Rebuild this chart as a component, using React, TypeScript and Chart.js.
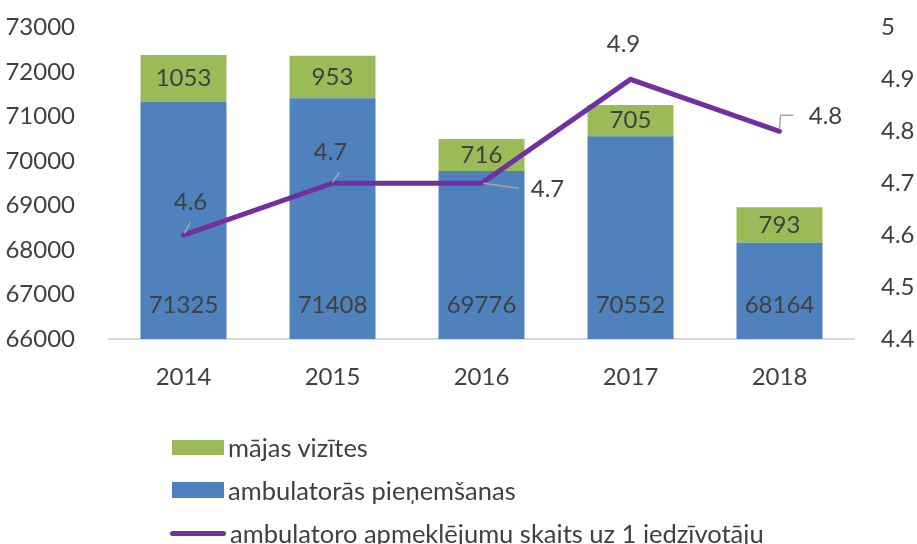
import React, { useEffect, useRef } from "react";
import { Chart, registerables } from "chart.js";

Chart.register(...registerables);

const years = ["2014", "2015", "2016", "2017", "2018"];
const ambulatoras = [71325, 71408, 69776, 70552, 68164];
const majasVizites = [1053, 953, 716, 705, 793];
const apmeklejumi = [4.6, 4.7, 4.7, 4.9, 4.8];

const seriesNames = ["mājas vizītes", "ambulatorās pieņemšanas", "ambulatoro apmeklējumu skaits uz 1 iedzīvotāju"];

const BLUE = "#4f81bd";
const GREEN = "#9bbb59";
const PURPLE = "#7030a0";
const TEXT = "#404040";
const FONT = "Lato, 'Open Sans', sans-serif";

// label placement for the line labels: text offset and leader polyline (relative to the point)
const lineLabelPlacement = [
  { dx: 7, dy: -33, leader: [[1, -2], [7, -13]] },
  { dx: -2, dy: -31, leader: [[0, -1], [7, -11]] },
  { dx: 66, dy: 6, leader: [[2, 0], [37, 5]] },
  { dx: -7, dy: -35, leader: [] },
  { dx: 46, dy: -15, leader: [[0, -2], [1, -16], [14, -16]] },
];

const labelPlugin = {
  id: "valueLabels",
  afterDatasetsDraw(chart: any) {
    const ctx = chart.ctx;
    ctx.save();
    ctx.font = `24px ${FONT}`;
    ctx.fillStyle = TEXT;
    ctx.textAlign = "center";
    ctx.textBaseline = "middle";
    const blueMeta = chart.getDatasetMeta(0);
    const greenMeta = chart.getDatasetMeta(1);
    const lineMeta = chart.getDatasetMeta(2);
    const basePx = chart.scales.y.getPixelForValue(chart.scales.y.min);
    blueMeta.data.forEach((bar: any, i: number) => {
      ctx.fillText(String(ambulatoras[i]), bar.x, basePx - 34);
    });
    greenMeta.data.forEach((bar: any, i: number) => {
      ctx.fillText(String(majasVizites[i]), bar.x, (bar.y + bar.base) / 2);
    });
    lineMeta.data.forEach((pt: any, i: number) => {
      const p = lineLabelPlacement[i];
      if (p.leader.length) {
        ctx.strokeStyle = "#a6a6a6";
        ctx.lineWidth = 1.5;
        ctx.beginPath();
        p.leader.forEach((l: number[], k: number) => {
          if (k === 0) ctx.moveTo(pt.x + l[0], pt.y + l[1]);
          else ctx.lineTo(pt.x + l[0], pt.y + l[1]);
        });
        ctx.stroke();
      }
      ctx.fillText(String(apmeklejumi[i]), pt.x + p.dx, pt.y + p.dy);
    });
    ctx.restore();
  },
};

export default function App() {
  const ref = useRef<HTMLCanvasElement>(null);
  useEffect(() => {
    document.body.style.margin = "0";
    const chart = new Chart(ref.current!, {
      type: "bar",
      data: {
        labels: years,
        datasets: [
          {
            type: "bar",
            label: seriesNames[1],
            data: ambulatoras,
            backgroundColor: BLUE,
            yAxisID: "y",
            order: 1,
            barPercentage: 0.577,
            categoryPercentage: 1,
            stack: "s",
          },
          {
            type: "bar",
            label: seriesNames[0],
            data: majasVizites,
            backgroundColor: GREEN,
            yAxisID: "y",
            order: 2,
            barPercentage: 0.577,
            categoryPercentage: 1,
            stack: "s",
          },
          {
            type: "line",
            label: seriesNames[2],
            data: apmeklejumi,
            borderColor: PURPLE,
            borderWidth: 5,
            pointRadius: 0,
            yAxisID: "y1",
            order: 0,
            borderJoinStyle: "miter",
            borderCapStyle: "round",
          } as any,
        ],
      },
      options: {
        responsive: false,
        animation: false,
        layout: { padding: { top: 17 } },
        plugins: { legend: { display: false }, tooltip: { enabled: false } },
        scales: {
          x: {
            stacked: true,
            grid: { display: false },
            border: { color: "#d9d9d9", width: 2 },
            ticks: { color: TEXT, font: { size: 24, family: FONT }, padding: 16 },
            afterFit: (s: any) => { s.height = 192; },
          },
          y: {
            stacked: true,
            position: "left",
            min: 66000,
            max: 73000,
            grid: { display: false },
            border: { display: false },
            ticks: {
              stepSize: 1000,
              color: TEXT,
              font: { size: 24, family: FONT },
              padding: 26,
              callback: (v: any) => String(v),
            },
            afterFit: (s: any) => { s.width = 109; },
          },
          y1: {
            position: "right",
            min: 4.4,
            max: 5,
            grid: { display: false },
            border: { display: false },
            ticks: {
              stepSize: 0.1,
              color: TEXT,
              font: { size: 24, family: FONT },
              padding: 19,
              callback: (v: any) => String(Number(Number(v).toFixed(1))),
            },
            afterFit: (s: any) => { s.width = 63; },
          },
        },
      },
      plugins: [labelPlugin],
    });
    return () => chart.destroy();
  }, []);

  const legendItem = (swatch: React.ReactNode, text: string, top: number) => (
    <div style={{ position: "absolute", left: 170, top, height: 30, display: "flex", alignItems: "center", fontFamily: FONT, fontSize: 25.5, color: TEXT, whiteSpace: "nowrap" }}>
      {swatch}
      <span style={{ marginLeft: 4 }}>{text}</span>
    </div>
  );

  return (
    <div style={{ position: "relative", width: 917, height: 544, overflow: "hidden", background: "#fff" }}>
      <canvas ref={ref} width={917} height={544} style={{ display: "block", position: "absolute", left: 0, top: -13 }} />
      {legendItem(<div style={{ width: 52, height: 15, marginLeft: 2, background: GREEN }} />, seriesNames[0], 432)}
      {legendItem(<div style={{ width: 52, height: 16, marginLeft: 2, background: BLUE }} />, seriesNames[1], 475)}
      {legendItem(<div style={{ width: 56, height: 5, borderRadius: 3, background: PURPLE }} />, seriesNames[2], 518)}
    </div>
  );
}
